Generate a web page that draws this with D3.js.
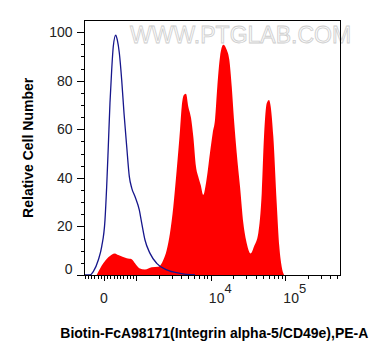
<!DOCTYPE html>
<html><head><meta charset="utf-8">
<script src="https://cdn.jsdelivr.net/npm/d3@7"></script>
<style>body{margin:0;background:#fff}svg{display:block}</style>
</head><body>
<script>
// ---- data (fluorescence intensity, PE-A) ----
const controlX = [-618, -433, -331, -176, -71, 31, 83, 133, 185, 238, 287, 362, 411, 473, 547, 618, 702, 783, 857, 958, 1095, 1180, 1306, 1525, 1876, 2556, 3854, 6128];
const controlY = [0, 0, 1.4, 6.2, 11.7, 22.7, 36.4, 52.9, 70.9, 84.5, 94.1, 98.8, 96.8, 91.5, 80.3, 66.7, 52.9, 40.5, 35.8, 32.3, 26.8, 21.4, 14.4, 8.9, 4.8, 2.1, 0.7, 0];
const stainedX = [-226, -22, 133, 340, 442, 702, 857, 958, 1095, 1306, 1607, 1971, 2300, 2556, 2829, 3133, 3480, 3854, 4062, 4362, 4639, 4982, 5414, 5812, 6318, 6783, 7308, 7918, 8609, 9738, 10588, 11370, 12210, 13270, 14690, 16320, 17690, 19060, 20450, 22230, 24620, 27280, 30290, 34260, 37960, 43350, 48150, 51680, 56200, 60330, 63600, 68930, 76560, 82950, 89310, 95930];
const stainedY = [0, 4.8, 7.3, 8.9, 8.2, 6.9, 6.5, 4.8, 2.8, 2.3, 3.2, 3.4, 6.2, 10.3, 17.3, 28.1, 43.3, 59.7, 69.3, 74.2, 74.6, 69.3, 64.7, 57.0, 44.6, 40.5, 37.1, 33.0, 37.9, 50.3, 58.5, 63.9, 77.6, 89.9, 94.8, 92.7, 88.6, 77.6, 63.9, 50.3, 36.4, 21.4, 13.1, 8.9, 11.7, 17.3, 33.7, 57.0, 70.7, 72.1, 69.3, 57.0, 29.5, 11.7, 3.4, 0];
const xDomain = [-618, 553000];
const yDomain = [0, 104.7];
const yMajorTicks = [0, 20, 40, 60, 80, 100];
const yMinorTicks = [5, 10, 15, 25, 30, 35, 45, 50, 55, 65, 70, 75, 85, 90, 95];
const xMajorTicks = [0, 1e3, 1e4, 1e5];
const xMinorTicks = [-600, -500, -400, -300, -200, -100, 100, 200, 300, 400, 500, 600, 700, 800, 900,
  2e3, 3e3, 4e3, 5e3, 6e3, 7e3, 8e3, 9e3, 2e4, 3e4, 4e4, 5e4, 6e4, 7e4, 8e4, 9e4, 2e5, 3e5, 4e5, 5e5];
const xLabels = [{v: 0, base: "0", exp: ""}, {v: 1e4, base: "10", exp: "4"}, {v: 1e5, base: "10", exp: "5"}];
const xTitle = "Biotin-FcA98171(Integrin alpha-5/CD49e),PE-A";
const yTitle = "Relative Cell Number";
const watermark = "WWW.PTGLAB.COM";

(function () {
// ---- biexponential-like transform: linear near zero, log above 1000 ----
const L = 1000, LN10 = Math.LN10;
const tf = v => v <= L ? v / (L * LN10) : Math.log10(v / L) + 1 / LN10;

const W = 389, H = 356;
const pL = 84, pR = 340.7, pT = 20.7, pB = 275;
const xLin = d3.scaleLinear().domain(xDomain.map(tf)).range([pL, pR]);
const x = v => xLin(tf(v));
const y = d3.scaleLinear().domain(yDomain).range([pB, pT]);

const svg = d3.select("body").append("svg").attr("width", W).attr("height", H);
const font = "'Liberation Sans', Arial, sans-serif";

// watermark
svg.append("text").attr("x", 130).attr("y", 43.3)
  .attr("font-family", font).attr("font-size", 23).attr("fill", "#fbfbfb")
  .attr("stroke", "#cdcdcd").attr("stroke-width", 0.8)
  .text(watermark);

// stained (red filled)
const area = d3.area().x((d, i) => x(stainedX[i])).y0(y(0)).y1(d => y(d)).curve(d3.curveMonotoneX);
svg.append("path").datum(stainedY).attr("d", area).attr("fill", "#ff0000");

// control (blue line)
const line = d3.line().x((d, i) => x(controlX[i])).y(d => y(d)).curve(d3.curveMonotoneX);
svg.append("path").datum(controlY).attr("d", line).attr("fill", "none")
  .attr("stroke", "#16168c").attr("stroke-width", 1.3);

// frame
const g = svg.append("g").attr("shape-rendering", "crispEdges");
g.append("rect").attr("x", pL).attr("y", pT).attr("width", pR - pL).attr("height", pB - pT)
  .attr("fill", "none").attr("stroke", "#000").attr("stroke-width", 1);

// y ticks
g.selectAll(".ymaj").data(yMajorTicks).join("line")
  .attr("x1", pL - 7).attr("x2", pL).attr("y1", d => Math.round(y(d)) + 0.5).attr("y2", d => Math.round(y(d)) + 0.5)
  .attr("stroke", "#000").attr("stroke-width", 1.5);
g.selectAll(".ymin").data(yMinorTicks).join("line")
  .attr("x1", pL - 3.5).attr("x2", pL).attr("y1", d => Math.round(y(d)) + 0.5).attr("y2", d => Math.round(y(d)) + 0.5)
  .attr("stroke", "#000").attr("stroke-width", 1);
svg.selectAll(".ylab").data(yMajorTicks).join("text")
  .attr("x", pL - 11.5).attr("y", d => y(d) + (d === 0 ? -1 : 5))
  .attr("text-anchor", "end").attr("font-family", font).attr("font-size", 14).attr("fill", "#222")
  .text(d => d);

// x ticks
g.selectAll(".xmaj").data(xMajorTicks).join("line")
  .attr("x1", d => Math.round(x(d)) + 0.5).attr("x2", d => Math.round(x(d)) + 0.5)
  .attr("y1", pB).attr("y2", pB + 6).attr("stroke", "#000").attr("stroke-width", 1.5);
g.selectAll(".xmin").data(xMinorTicks).join("line")
  .attr("x1", d => Math.round(x(d)) + 0.5).attr("x2", d => Math.round(x(d)) + 0.5)
  .attr("y1", pB).attr("y2", pB + 3.5).attr("stroke", "#000").attr("stroke-width", 1);

const xl = svg.selectAll(".xlab").data(xLabels).join("text")
  .attr("x", d => d.exp ? x(d.v) - 2 : x(d.v)).attr("y", 303.3)
  .attr("text-anchor", d => d.exp ? "start" : "middle")
  .attr("font-family", font).attr("font-size", 14).attr("fill", "#222");
xl.append("tspan").text(d => d.base);
xl.filter(d => d.exp).append("tspan").attr("font-size", 13).attr("dy", -10.5).text(d => d.exp);

// titles
svg.append("text").attr("x", (pL + pR) / 2 + 2).attr("y", 337.5).attr("text-anchor", "middle")
  .attr("font-family", font).attr("font-weight", "bold").attr("font-size", 14).attr("fill", "#000")
  .text(xTitle);
svg.append("text").attr("transform", `translate(32.5,${(pT + pB) / 2}) rotate(-90)`)
  .attr("text-anchor", "middle").attr("font-family", font).attr("font-weight", "bold")
  .attr("font-size", 14).attr("fill", "#000").text(yTitle);
})();
</script>
</body></html>
